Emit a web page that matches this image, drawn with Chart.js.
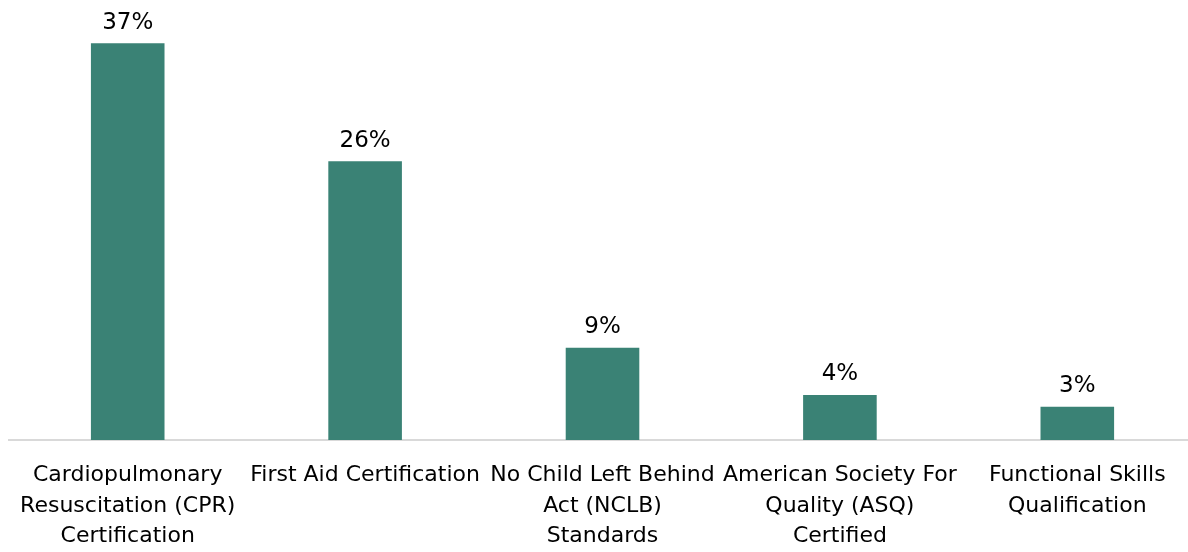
<!DOCTYPE html>
<html>
<head>
<meta charset="utf-8">
<script src="https://cdn.jsdelivr.net/npm/chart.js@4/dist/chart.umd.min.js"></script>
<style>
  html, body { margin: 0; padding: 0; background: #fff; overflow: hidden; }
  #wrap { width: 1196px; height: 552px; }
</style>
</head>
<body>
<div id="wrap"><canvas id="certChart"></canvas></div>
<script>
const categories = [
    ['Cardiopulmonary', 'Resuscitation (CPR)', 'Certification'],
    ['First Aid Certification'],
    ['No Child Left Behind', 'Act (NCLB)', 'Standards'],
    ['American Society For', 'Quality (ASQ)', 'Certified'],
    ['Functional Skills', 'Qualification']
];
const shares = [37, 26, 8.6, 4.2, 3.1];
const shareLabels = ['37%', '26%', '9%', '4%', '3%'];

const fontFamily = '"DejaVu Sans", sans-serif';

// draws the percentage above each bar
const valueLabels = {
    id: 'valueLabels',
    afterDatasetsDraw(chart) {
        const ctx = chart.ctx;
        const meta = chart.getDatasetMeta(0);
        ctx.save();
        ctx.font = '23px ' + fontFamily;
        ctx.fillStyle = '#000';
        ctx.textAlign = 'center';
        ctx.textBaseline = 'bottom';
        meta.data.forEach((bar, i) => {
            ctx.fillText(shareLabels[i], bar.x, bar.y - 9);
        });
        ctx.restore();
    }
};

const ctx = document.getElementById('certChart').getContext('2d');

const certChart = new Chart(ctx, {
    type: 'bar',
    data: {
        labels: categories,
        datasets: [{
            data: shares,
            backgroundColor: '#3a8275',
            categoryPercentage: 1,
            barPercentage: 0.31
        }]
    },
    options: {
        responsive: true,
        maintainAspectRatio: false,
        animation: false,
        layout: { padding: { top: 11, left: 1, right: 0, bottom: 0 } },
        plugins: {
            legend: { display: false },
            tooltip: { enabled: false }
        },
        scales: {
            x: {
                grid: { display: false, drawTicks: false },
                border: { display: true, color: '#d9d9d9', width: 2 },
                afterFit(scale) { scale.height = 112; },
                ticks: {
                    color: '#000',
                    padding: 20,
                    maxRotation: 0,
                    autoSkip: false,
                    font: { family: fontFamily, size: 22, lineHeight: 1.39 }
                }
            },
            y: {
                display: false,
                min: 0,
                max: 40
            }
        }
    },
    plugins: [valueLabels]
});
</script>
</body>
</html>
